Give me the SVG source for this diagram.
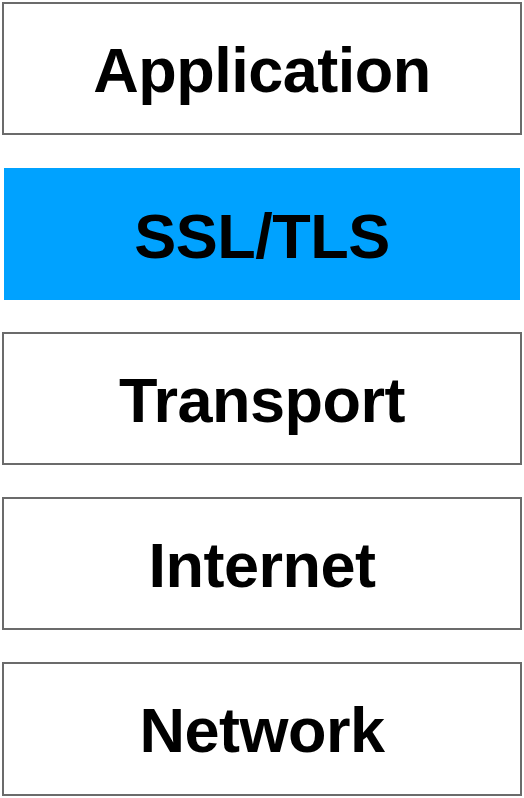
<svg xmlns="http://www.w3.org/2000/svg" width="524" height="798" viewBox="0 0 524 798">
<style>
.box{fill:#ffffff;stroke:#6b6b6b;stroke-width:2}
.hl{fill:#00a2ff}
.lbl{font-family:"Liberation Sans",Arial,Helvetica,sans-serif;font-weight:bold;font-size:63px;fill:#000000;text-anchor:middle}
</style>
<rect width="524" height="798" fill="#ffffff"/>
<g id="application"><rect class="box" x="3" y="3" width="518" height="131"/><text class="lbl" x="262" y="92" letter-spacing="-0.5">Application</text></g>
<g id="ssl-tls"><rect class="hl" x="4" y="168" width="516" height="132"/><text class="lbl" x="262" y="258" letter-spacing="-0.5">SSL/TLS</text></g>
<g id="transport"><rect class="box" x="3" y="333" width="518" height="131"/><text class="lbl" x="262" y="422" letter-spacing="-0.5">Transport</text></g>
<g id="internet"><rect class="box" x="3" y="498" width="518" height="131"/><text class="lbl" x="262" y="587" letter-spacing="-0.5">Internet</text></g>
<g id="network"><rect class="box" x="3" y="663" width="518" height="132"/><text class="lbl" x="262" y="752" letter-spacing="-0.5">Network</text></g>
<g id="connectors"></g>
</svg>
